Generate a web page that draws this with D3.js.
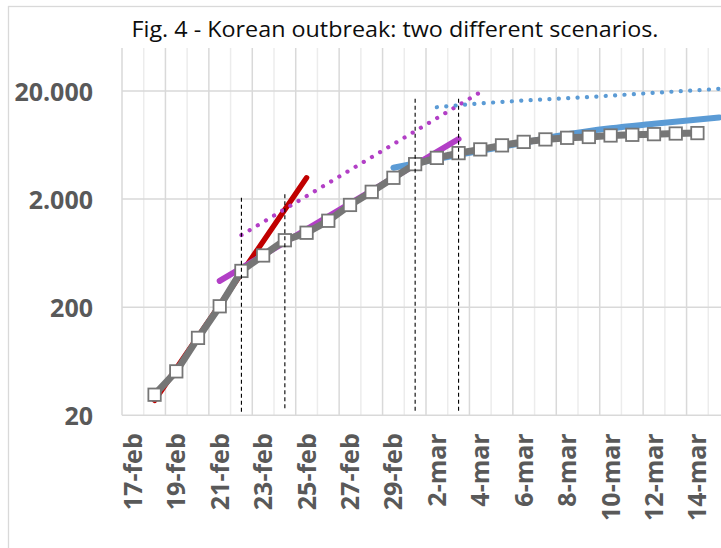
<!DOCTYPE html>
<html>
<head>
<meta charset="utf-8">
<script src="https://cdn.jsdelivr.net/npm/d3@7"></script>
<style>
  html, body { margin: 0; padding: 0; background: #ffffff; }
  svg { display: block; font-family: "Open Sans", "Noto Sans", sans-serif; }
</style>
</head>
<body>
<div id="chart"></div>
<script>
// days on the category axis
const categories = ["17-feb", "18-feb", "19-feb", "20-feb", "21-feb", "22-feb", "23-feb", "24-feb",
  "25-feb", "26-feb", "27-feb", "28-feb", "29-feb", "1-mar", "2-mar", "3-mar", "4-mar", "5-mar",
  "6-mar", "7-mar", "8-mar", "9-mar", "10-mar", "11-mar", "12-mar", "13-mar", "14-mar", "15-mar"];
const xTickLabels = ["17-feb", "19-feb", "21-feb", "23-feb", "25-feb", "27-feb", "29-feb",
  "2-mar", "4-mar", "6-mar", "8-mar", "10-mar", "12-mar", "14-mar"];
const yTicks = [20, 200, 2000, 20000];
const yTickLabels = ["20", "200", "2.000", "20.000"];

// confirmed cases (one per category, null = no point)
const confirmed = [null, 31, 51, 104, 204, 433, 602, 833, 977, 1261, 1766, 2337, 3150,
  4212, 4812, 5328, 5766, 6284, 6767, 7134, 7382, 7513, 7755, 7869, 7979, 8086, 8162, null];

// fitted / projected curves [day, value]
const redFit = [["18-feb", 27.5], ["25-feb", 3150]];
const purpleFit = [["21-feb", 350], ["3-mar", 7190]];
const purpleProj = [["22-feb", 930], ["4-mar", 19500]];
const blueFit = [["29-feb", 3900], ["3-mar", 5140], ["6-mar", 6640], ["8-mar", 7960],
  ["10-mar", 9050], ["12-mar", 9960], ["15-mar", 11390]];
const blueProj = [["2-mar", 14160], ["4-mar", 15350], ["6-mar", 16330], ["9-mar", 17600],
  ["12-mar", 19250], ["15-mar", 20920]];

// dashed markers [day, bottom, top]
const markers = [["22-feb", 21.6, 2190], ["24-feb", 23.2, 2300], ["1-mar", 22, 17200], ["3-mar", 22, 17200]];

const W = 721, H = 548;
const plotL = 122, plotR = 730, plotT = 48, plotB = 415.3;
const FONT = '"Open Sans", "Noto Sans", sans-serif';

const svg = d3.select("#chart").append("svg")
  .attr("width", W)
  .attr("height", H);

// chart area border (goes past the window on right/bottom)
svg.append("rect")
  .attr("x", 8.5).attr("y", 6.5)
  .attr("width", 800).attr("height", 600)
  .attr("fill", "#fff")
  .attr("stroke", "#d9d9d9")
  .attr("stroke-width", 1.3);

const x = d3.scaleBand().domain(categories).range([plotL, plotR]);
const y = d3.scaleLog().domain([20, 50000]).range([plotB, plotT]);
const cx = d => x(d) + x.bandwidth() / 2;

// vertical gridlines, darker every second one
const bounds = categories.map(c => x(c)).concat([plotR]);
svg.append("g").selectAll("line")
  .data(bounds)
  .enter().append("line")
    .attr("x1", d => d).attr("x2", d => d)
    .attr("y1", plotT).attr("y2", plotB)
    .attr("stroke", (d, i) => i % 2 === 0 ? "#d9d9d9" : "#ececec")
    .attr("stroke-width", 1.5);

// horizontal gridlines
svg.append("g").selectAll("line")
  .data(yTicks)
  .enter().append("line")
    .attr("x1", plotL).attr("x2", plotR)
    .attr("y1", d => y(d)).attr("y2", d => y(d))
    .attr("stroke", "#d9d9d9")
    .attr("stroke-width", 1.5);

// axes
const yAxis = svg.append("g")
  .attr("transform", `translate(${plotL},0)`)
  .call(d3.axisLeft(y).tickValues(yTicks).tickFormat((d, i) => yTickLabels[i]).tickSize(0).tickPadding(29))
  .attr("font-family", FONT);
yAxis.select(".domain").remove();
yAxis.selectAll("text")
  .attr("dy", "0.36em")
  .style("font-size", "25px")
  .style("font-weight", "bold")
  .style("fill", "#595959");

const xAxis = svg.append("g")
  .attr("transform", `translate(0,${plotB})`)
  .call(d3.axisBottom(x).tickValues(xTickLabels).tickSize(0))
  .attr("font-family", FONT);
xAxis.select(".domain").remove();
xAxis.selectAll("text")
  .attr("x", 0).attr("y", 0)
  .attr("dy", "0.36em")
  .attr("transform", "translate(0,18) rotate(-90)")
  .attr("text-anchor", "end")
  .style("font-size", "25px")
  .style("font-weight", "bold")
  .style("fill", "#595959");

const line = d3.line()
  .x(d => cx(d[0]))
  .y(d => y(d[1]));

const curve = d3.line()
  .x(d => cx(d[0]))
  .y(d => y(d[1]))
  .curve(d3.curveMonotoneX);

// fits under the data
svg.append("path").datum(redFit)
  .attr("d", line).attr("fill", "none")
  .attr("stroke", "#c00000").attr("stroke-width", 5.5).attr("stroke-linecap", "round");
svg.append("path").datum(purpleFit)
  .attr("d", line).attr("fill", "none")
  .attr("stroke", "#b23fc6").attr("stroke-width", 6).attr("stroke-linecap", "round");
svg.append("path").datum(blueFit)
  .attr("d", curve).attr("fill", "none")
  .attr("stroke", "#5b9bd5").attr("stroke-width", 6).attr("stroke-linecap", "round");

// dotted projections
svg.append("path").datum(purpleProj)
  .attr("d", line).attr("fill", "none")
  .attr("stroke", "#b23fc6").attr("stroke-width", 4.2)
  .attr("stroke-linecap", "round").attr("stroke-dasharray", "0.1 9.4");
svg.append("path").datum(blueProj)
  .attr("d", curve).attr("fill", "none")
  .attr("stroke", "#5b9bd5").attr("stroke-width", 4.2)
  .attr("stroke-linecap", "round").attr("stroke-dasharray", "0.1 9.3");

// confirmed cases
const pts = categories.map((c, i) => [c, confirmed[i]]).filter(d => d[1] !== null);
svg.append("path").datum(pts)
  .attr("d", line).attr("fill", "none")
  .attr("stroke", "#767676").attr("stroke-width", 7);
svg.append("g").selectAll("rect")
  .data(pts)
  .enter().append("rect")
    .attr("x", d => cx(d[0]) - 6.2).attr("y", d => y(d[1]) - 6.2)
    .attr("width", 12.4).attr("height", 12.4)
    .attr("fill", "#fff")
    .attr("stroke", "#767676")
    .attr("stroke-width", 1.8);

// dashed vertical markers
svg.append("g").selectAll("line")
  .data(markers)
  .enter().append("line")
    .attr("x1", d => cx(d[0])).attr("x2", d => cx(d[0]))
    .attr("y1", d => y(d[1])).attr("y2", d => y(d[2]))
    .attr("stroke", "#000")
    .attr("stroke-width", 1.1)
    .attr("stroke-dasharray", "4 3");

// title
svg.append("text")
  .attr("x", 395).attr("y", 37)
  .attr("text-anchor", "middle")
  .attr("textLength", 527)
  .attr("lengthAdjust", "spacingAndGlyphs")
  .style("font-size", "21px")
  .style("fill", "#0d0d0d")
  .text("Fig. 4 - Korean outbreak: two different scenarios.");
</script>
</body>
</html>
